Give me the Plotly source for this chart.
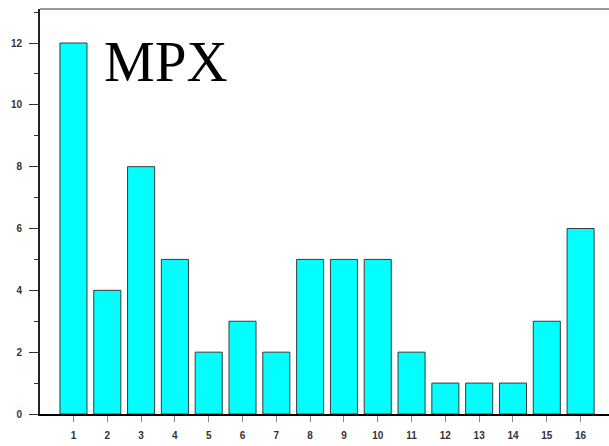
import plotly.graph_objects as go

categories = list(range(1, 17))
values = [12, 4, 8, 5, 2, 3, 2, 5, 5, 5, 2, 1, 1, 1, 3, 6]
tick_labels = [str(c) for c in categories]

fig = go.Figure()
fig.add_trace(go.Bar(
    x=categories, y=values, width=0.8,
    marker=dict(color="#00FFFF", line=dict(color="#3a3a3a", width=1)),
))

tf = dict(family="Liberation Sans, Arial, sans-serif", size=10, color="#333", weight="bold")

fig.update_layout(
    width=609, height=446,
    margin=dict(l=40, r=0, t=9, b=32),
    paper_bgcolor="white", plot_bgcolor="white",
    showlegend=False,
    font=dict(family="Liberation Sans, Arial, sans-serif", size=10, color="#222"),
    xaxis=dict(range=[0.01, 16.84], tickvals=categories, ticktext=tick_labels,
               ticks="outside", ticklen=6, tickcolor="#888", showgrid=False,
               showline=True, linecolor="black", linewidth=2, zeroline=False,
               ticklabelstandoff=5, automargin=False, tickfont=tf),
    yaxis=dict(range=[0, 13.1], tickvals=[0, 2, 4, 6, 8, 10, 12],
               ticks="outside", ticklen=9, tickcolor="#333", tickwidth=1,
               showgrid=False, showline=True, linecolor="#222", linewidth=2,
               zeroline=False, ticklabelstandoff=5, automargin=False, tickfont=tf,
               minor=dict(tickvals=[1, 3, 5, 7, 9, 11, 13], ticks="outside", ticklen=4, tickcolor="#333")),
    shapes=[dict(type="line", xref="paper", yref="paper", x0=0, x1=1, y0=1, y1=1,
                 line=dict(color="#999", width=2))],
    annotations=[dict(text="MPX", xref="x", yref="y", x=1.83, y=12.47, xanchor="left", yanchor="top",
                      showarrow=False, font=dict(family="Liberation Serif, Times New Roman, serif", size=57, color="black"))],
)

fig.write_html("out.html", config={"displayModeBar": False},
               post_script="document.body.style.margin='0';document.body.style.overflow='hidden';")
